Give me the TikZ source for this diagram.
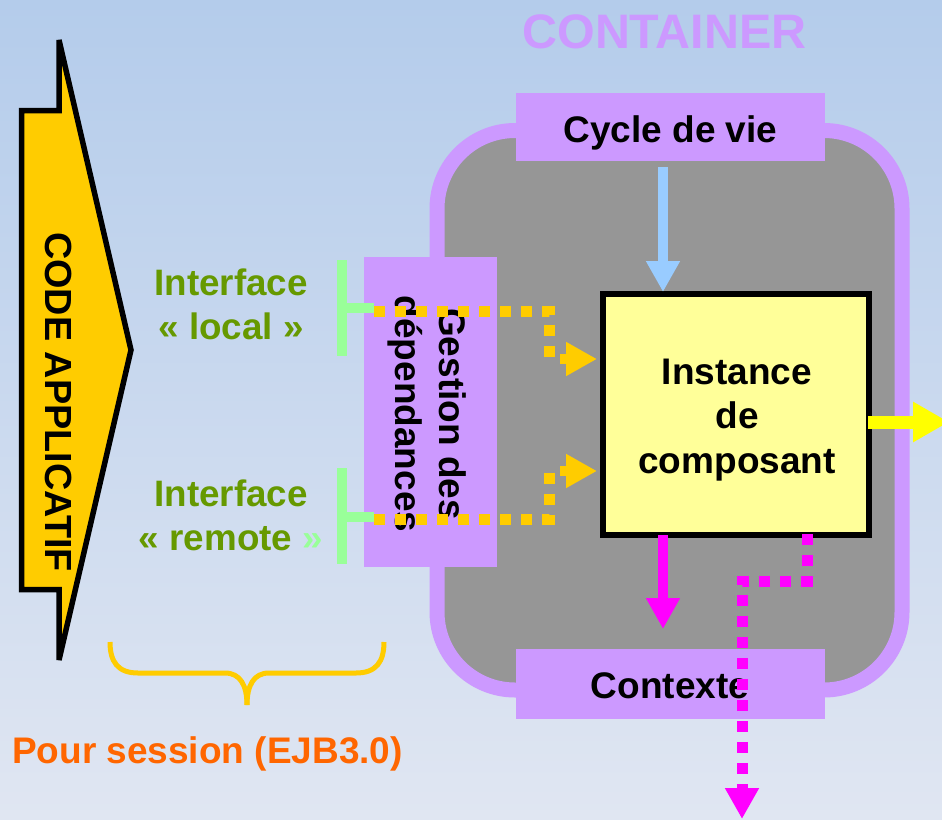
\documentclass[tikz,border=0pt]{standalone}
\usepackage{fontspec}
\setmainfont{Liberation Sans}
\usetikzlibrary{arrows.meta}

\definecolor{bgtop}{RGB}{180,204,235}
\definecolor{bgmid}{RGB}{214,224,240}
\definecolor{bgbot}{RGB}{224,230,242}
\definecolor{lilac}{RGB}{204,153,255}
\definecolor{boxgray}{RGB}{150,150,150}
\definecolor{gold}{RGB}{255,204,0}
\definecolor{paleyellow}{RGB}{255,255,153}
\definecolor{olive}{RGB}{102,153,0}
\definecolor{mint}{RGB}{153,255,153}
\definecolor{skyblue}{RGB}{153,204,255}
\definecolor{signal}{RGB}{255,102,0}
\definecolor{brightyellow}{RGB}{255,255,0}
\definecolor{fuchsia}{RGB}{255,0,255}

\tikzset{
  bigfont/.style={font=\bfseries\fontsize{#1}{#1}\selectfont},
  lilacbox/.style={fill=lilac, draw=none, inner sep=0pt},
  txt/.style={inner sep=0pt, align=center, font=\bfseries\fontsize{37}{44.5}\selectfont},
  greentxt/.style={inner sep=0pt, align=center, text=olive, font=\bfseries\fontsize{36.8}{44}\selectfont},
  dotline/.style={line width=11pt, dash pattern=on 11pt off 10pt, line cap=butt},
  bigtip/.style={-{Triangle[width=32pt,length=31pt]}},
  tbar/.style={draw=mint, line width=10.5pt}
}

\begin{document}
\begin{tikzpicture}[x=1pt,y=-1pt]
  \useasboundingbox (0,0) rectangle (942,819);
  \clip (0,0) rectangle (942,819);
  % backdrop
  \shade[top color=bgtop, middle color=bgmid, bottom color=bgbot] (0,0) rectangle (942,819);

  % title
  \node[bigfont=48.4, text=lilac, anchor=base, inner sep=0pt] (title) at (664.5,48) {CONTAINER};

  % container body
  \draw[line width=15pt, draw=lilac, fill=boxgray, rounded corners=78pt]
    (437,130.5) rectangle (902,690);

  % application code flag
  \draw[fill=gold, line width=5.5pt, line join=miter, miter limit=5]
    (59,40) -- (131,350) -- (59,660) -- (59,589.5) -- (21.5,589.5)
    -- (21.5,110.5) -- (59,110.5) -- cycle;
  \node[txt, bigfont=37.8, rotate=-90] (code) at (58.5,402) {CODE APPLICATIF};

  % service boxes
  \node[lilacbox, minimum width=309pt, minimum height=68pt] (cyclebox) at (670.5,127) {};
  \node[txt, anchor=base] (cycle) at (670.5,142) {Cycle de vie};
  \node[lilacbox, minimum width=309pt, minimum height=70pt] (ctxbox) at (670.5,684) {};
  \node[txt, anchor=base] (ctx) at (670,698) {Contexte};
  \node[lilacbox, minimum width=133pt, minimum height=310pt] (depbox) at (430.5,412) {};
  \node[txt, rotate=-90] (dep) at (427,414) {Gestion des\\dépendances};

  % component instance
  \node[draw=black, fill=paleyellow, line width=6pt, minimum width=266pt,
        minimum height=241pt, inner sep=0pt] (inst) at (736,414.5) {};
  \node[txt] (insttext) at (737,420) {Instance\\de\\composant};

  % interfaces
  \node[greentxt] (ilocal) at (231,304) {Interface\\« local »};
  \node[greentxt] (iremote) at (231,515) {Interface\\« remote {\color{mint}»}};

  % interface plugs
  \coordinate (plA) at (342,260);
  \coordinate (plB) at (342,356);
  \coordinate (plC) at (342,308);
  \coordinate (plD) at (374,308);
  \draw[tbar] (plA) -- (plB);
  \draw[tbar, line width=10pt] (plC) -- (plD);
  \coordinate (prA) at (342,468);
  \coordinate (prB) at (342,564);
  \coordinate (prC) at (342,517);
  \coordinate (prD) at (374,517);
  \draw[tbar] (prA) -- (prB);
  \draw[tbar, line width=10pt] (prC) -- (prD);

  % injection paths
  \coordinate (la) at (374,311);
  \coordinate (lb) at (549,311);
  \coordinate (lc) at (549,359);
  \coordinate (ld) at (560,359);
  \coordinate (ra) at (374,519);
  \coordinate (rb) at (549,519);
  \coordinate (rc) at (549,471);
  \coordinate (rd) at (560,471);
  \draw[dotline, draw=gold] (la) -- (lb) -- (lc);
  \draw[dotline, draw=gold] (ra) -- (rb) -- (rc);
  \draw[draw=gold, line width=10pt, bigtip] (ld) -- ([xshift=-3pt]ld -| inst.west);
  \draw[draw=gold, line width=10pt, bigtip] (rd) -- ([xshift=-3pt]rd -| inst.west);

  % lifecycle call
  \coordinate (axis) at (663,0);
  \coordinate (lifestart) at (663,167);
  \draw[draw=skyblue, line width=10.5pt, bigtip]
    (lifestart) -- ([yshift=-1pt]inst.north -| axis);

  % context access
  \coordinate (ctxend) at (663,629);
  \draw[draw=fuchsia, line width=10pt, bigtip]
    ([yshift=3pt]inst.south -| axis) -- (ctxend);

  % outgoing call
  \coordinate (out) at (949,422);
  \draw[draw=brightyellow, line width=13pt,
        -{Triangle[width=38pt,length=36pt]}] ([xshift=-4pt]inst.east |- out) -- (out);

  % remote access leaving the container
  \coordinate (ma) at (807,534);
  \coordinate (mb) at (807,581);
  \coordinate (mc) at (742,581);
  \coordinate (me) at (742,790);
  \coordinate (md) at (742,819);
  \draw[dotline, draw=fuchsia] (ma) -- (mb) -- (mc) -- (me);
  \draw[draw=fuchsia, line width=10pt, bigtip] ([yshift=2pt]me) -- (md);

  % session brace
  \coordinate (bl) at (110,642);
  \coordinate (br) at (384,642);
  \coordinate (bt) at (247,705);
  \draw[draw=gold, line width=5pt]
    (bl) .. controls (110,662) and (118,673) .. (138,673) -- (225,673)
    .. controls (240,673) and (247,685) .. (bt);
  \draw[draw=gold, line width=5pt]
    (br) .. controls (384,662) and (376,673) .. (356,673) -- (269,673)
    .. controls (254,673) and (247,685) .. (bt);
  \node[txt, text=signal, anchor=base] (session) at (207.5,763) {Pour session (EJB3.0)};
\end{tikzpicture}
\end{document}
